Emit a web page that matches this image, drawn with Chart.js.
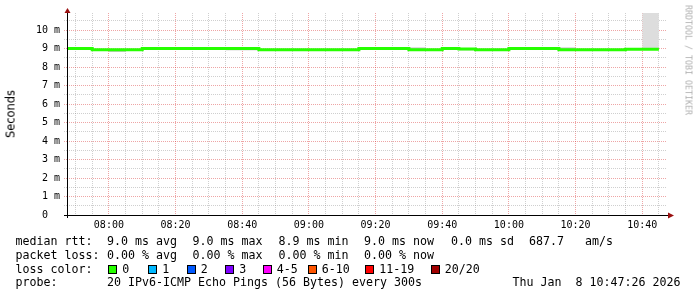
<!DOCTYPE html>
<html><head><meta charset="utf-8">
<script src="https://cdn.jsdelivr.net/npm/chart.js@4.4.1/dist/chart.umd.min.js"></script>
<style>
html,body{margin:0;padding:0;background:#fff;}
#wrap{position:relative;width:697px;height:297px;overflow:hidden;background:#fff;}
#c{position:absolute;left:0;top:0;}
.t{position:absolute;font-family:"DejaVu Sans Mono",monospace;font-size:11.63px;line-height:13px;white-space:pre;color:#000;}
.box{position:absolute;width:7px;height:7px;border:1px solid #000;}
#ytitle{position:absolute;left:10.5px;top:113.5px;transform:translate(-50%,-50%) rotate(-90deg);font-family:"DejaVu Sans",sans-serif;font-size:11.43px;line-height:13px;white-space:nowrap;color:#000;}
#wm{position:absolute;left:688px;top:60px;transform:translate(-50%,-50%) rotate(90deg);font-family:"DejaVu Sans Mono",monospace;font-size:8.3px;line-height:9px;white-space:pre;color:#b0b0b0;}
</style>
</head><body>
<div id="wrap">
<canvas id="c" width="697" height="297"></canvas>
<div id="ytitle">Seconds</div>
<div id="wm">RRDTOOL / TOBI OETIKER</div>
<div id="legend"></div>
</div>
<script>
// ---- data ----
const graphStart = '07:47:26';
const graphEnd = '10:47:26';
const stepMinutes = 5; // 300 s probe step
const intervalEnd = ['07:50','07:55','08:00','08:05','08:10','08:15','08:20','08:25','08:30','08:35','08:40','08:45',
  '08:50','08:55','09:00','09:05','09:10','09:15','09:20','09:25','09:30','09:35','09:40','09:45',
  '09:50','09:55','10:00','10:05','10:10','10:15','10:20','10:25','10:30','10:35','10:40','10:45'];
const medianRtt = [9.00,8.94,8.94,8.94,9.00,9.00,9.00,9.00,9.00,9.00,9.00,8.94,
  8.94,8.94,8.94,8.94,8.94,9.00,9.00,9.00,8.94,8.94,9.00,8.97,
  8.94,8.94,9.00,9.00,9.00,8.94,8.94,8.94,8.94,8.96,8.96,8.96];
const smokeMin = [8.96,8.90,8.82,8.90,8.96,8.96,8.96,8.96,8.96,8.90,8.90,8.90,
  8.90,8.90,8.90,8.90,8.90,8.96,8.96,8.96,8.90,8.90,8.96,8.90,
  8.90,8.90,8.96,8.96,8.96,8.90,8.90,8.90,8.90,8.92,8.92,8.92];
const smokeMax = [9.05,8.98,8.98,8.98,9.04,9.04,9.04,9.04,9.04,9.04,9.04,8.98,
  8.98,8.98,8.98,8.98,8.98,9.04,9.04,9.04,9.05,8.98,9.04,9.01,
  8.98,8.98,9.04,9.04,9.04,9.05,8.98,8.98,8.98,9.00,9.00,9.00];
const pendingInterval = ['10:40','10:45'];
const xTickLabels = ['08:00','08:20','08:40','09:00','09:20','09:40','10:00','10:20','10:40'];
const yTickLabels = ['0  ','1 m','2 m','3 m','4 m','5 m','6 m','7 m','8 m','9 m','10 m'];
const yAxisTop = 10.92;
const lossNames = ['0','1','2','3','4-5','6-10','11-19','20/20'];
const lossColors = ['#26ff00','#00b8ff','#0059ff','#7e00ff','#ff00ff','#ff5500','#ff0000','#a10000'];
const rttStats = ['9.0 ms avg','9.0 ms max','8.9 ms min','9.0 ms now','0.0 ms sd','687.7','am/s'];
const lossStats = ['0.00 % avg','0.00 % max','0.00 % min','0.00 % now'];
const probeText = '20 IPv6-ICMP Echo Pings (56 Bytes) every 300s';
const stampText = 'Thu Jan  8 10:47:26 2026';

// ---- helpers ----
function toMin(s){const p=s.split(':').map(Number);return p[0]*60+p[1]+(p[2]||0)/60;}
function fmt(v){const h=Math.floor(v/60),m=Math.round(v-h*60);return String(h).padStart(2,'0')+':'+String(m).padStart(2,'0');}
const xMin = toMin(graphStart), xMax = toMin(graphEnd);
function stepPoints(vals){
  const pts=[{x:toMin(intervalEnd[0])-stepMinutes,y:vals[0]}];
  intervalEnd.forEach((t,i)=>pts.push({x:toMin(t),y:vals[i]}));
  return pts;
}
const majorCol = 'rgba(215,40,40,0.42)';
const minorCol = 'rgba(128,128,128,0.38)';
const monoAxis = {family:'DejaVu Sans Mono', size:10};

const axisPlugin = {
  id:'rrdaxes',
  afterDraw(chart){
    const ctx=chart.ctx, a=chart.chartArea;
    const x0=Math.round(a.left)+0.5, y0=Math.round(a.bottom)+0.5;
    ctx.save();
    ctx.strokeStyle='#000'; ctx.lineWidth=1;
    ctx.beginPath();
    ctx.moveTo(a.left-3,y0); ctx.lineTo(a.right+1,y0);
    ctx.moveTo(x0,a.bottom+3); ctx.lineTo(x0,a.top);
    ctx.stroke();
    ctx.fillStyle='#9a1010';
    ctx.beginPath();
    ctx.moveTo(x0-3,a.top); ctx.lineTo(x0+3,a.top); ctx.lineTo(x0,a.top-5); ctx.closePath(); ctx.fill();
    ctx.beginPath();
    ctx.moveTo(a.right+1,y0-3); ctx.lineTo(a.right+1,y0+3); ctx.lineTo(a.right+7,y0); ctx.closePath(); ctx.fill();
    ctx.restore();
  }
};

new Chart(document.getElementById('c'), {
  type:'line',
  data:{datasets:[
    {label:'median rtt', data:stepPoints(medianRtt), stepped:'before', borderColor:lossColors[0], borderWidth:3,
     pointRadius:0, fill:false, order:0, borderCapStyle:'butt', borderJoinStyle:'miter'},
    {label:'smoke max', data:stepPoints(smokeMax), stepped:'before', borderColor:'transparent', borderWidth:0,
     pointRadius:0, fill:'+1', backgroundColor:'#bcbcbc', order:1},
    {label:'smoke min', data:stepPoints(smokeMin), stepped:'before', borderColor:'transparent', borderWidth:0,
     pointRadius:0, fill:false, order:1},
    {label:'pending', data:pendingInterval.map(t=>({x:toMin(t),y:yAxisTop})), borderColor:'transparent', borderWidth:0,
     pointRadius:0, fill:{value:medianRtt[medianRtt.length-1]}, backgroundColor:'#dddddd', order:2}
  ]},
  options:{
    responsive:false, animation:false, devicePixelRatio:1,
    layout:{padding:{left:0,right:30,top:13,bottom:0}},
    plugins:{legend:{display:false}, tooltip:{enabled:false}, title:{display:false}},
    scales:{
      x:{type:'linear', min:xMin, max:xMax,
        afterBuildTicks:s=>{const t=[];for(let v=Math.ceil(xMin/stepMinutes)*stepMinutes;v<=xMax;v+=stepMinutes)t.push({value:v});s.ticks=t;},
        afterFit:s=>{s.height=82;},
        ticks:{autoSkip:false,maxRotation:0,minRotation:0,padding:2,color:'#000',font:monoAxis,
          callback:v=>{const l=fmt(v);return xTickLabels.includes(l)?l:'';}},
        grid:{color:c=>(c.tick&&xTickLabels.includes(fmt(c.tick.value)))?majorCol:minorCol,lineWidth:1,
          drawTicks:true,tickLength:2,tickColor:c=>(c.tick&&xTickLabels.includes(fmt(c.tick.value)))?majorCol:'rgba(0,0,0,0)',tickBorderDash:[1,1]},
        border:{display:false,dash:[1,1]}
      },
      y:{type:'linear', min:0, max:yAxisTop,
        afterBuildTicks:s=>{const t=[];for(let v=0;v<=yAxisTop;v+=0.5)t.push({value:v});s.ticks=t;},
        afterFit:s=>{s.width=67;},
        ticks:{autoSkip:false,padding:4,color:'#000',font:monoAxis,
          callback:v=>Number.isInteger(v)?yTickLabels[v]:''},
        grid:{color:c=>(c.tick&&Number.isInteger(c.tick.value))?majorCol:minorCol,lineWidth:1,
          drawTicks:true,tickLength:3,tickColor:c=>(c.tick&&Number.isInteger(c.tick.value))?majorCol:minorCol,tickBorderDash:[1,1]},
        border:{display:false,dash:[1,1]}
      }
    }
  },
  plugins:[axisPlugin]
});

// ---- text legend ----
const L=document.getElementById('legend');
function txt(x,y,s){const d=document.createElement('div');d.className='t';d.style.left=x+'px';d.style.top=y+'px';d.textContent=s;L.appendChild(d);}
const colX=[107,192.5,278.5,364,451,529,585];
const rows=[235.4,248.7,262.9,276.2];
txt(15.5,rows[0],'median rtt:'); rttStats.forEach((s,i)=>txt(colX[i],rows[0],s));
txt(15.5,rows[1],'packet loss:'); lossStats.forEach((s,i)=>txt(colX[i],rows[1],s));
txt(15.5,rows[2],'loss color:');
const boxX=[108,148,186.5,225,262.5,307.5,365,430.5];
lossNames.forEach((n,i)=>{
  const b=document.createElement('div');b.className='box';b.style.left=boxX[i]+'px';b.style.top='265px';b.style.background=lossColors[i];L.appendChild(b);
  txt(boxX[i]+14.2,rows[2],n);
});
txt(15.5,rows[3],'probe:'); txt(107,rows[3],probeText); txt(512.5,rows[3],stampText);
</script>
</body></html>
